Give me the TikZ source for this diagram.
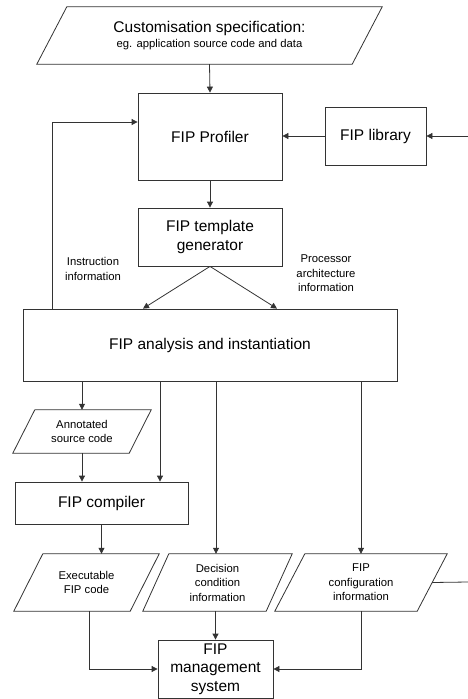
\documentclass[tikz,border=0pt]{standalone}
\usepackage{fontspec}
\setsansfont{Liberation Sans}
\usepackage{tikz}
\usetikzlibrary{arrows.meta}

\newcommand{\bigtext}{\fontsize{15.5}{18.5}\selectfont}
\newcommand{\smalltext}{\fontsize{11.3}{14.5}\selectfont}
% slanted outline round a (rectangular) data node: name, half slant
\newcommand{\dataframe}[2]{%
  \draw[plain] ([xshift=#2]#1.north west) -- ([xshift=#2]#1.north east)
    -- ([xshift=-#2]#1.south east) -- ([xshift=-#2]#1.south west) -- cycle;}

\begin{document}
\begin{tikzpicture}[
    x=1pt, y=-1pt,
    font=\sffamily\bigtext,
    process/.style={draw=black!80, line width=0.8pt, rectangle, inner sep=0pt, align=center},
    data/.style={rectangle, inner sep=0pt, align=center, font=\sffamily\smalltext},
    flow/.style={draw=black!80, line width=0.8pt, -{Triangle[length=6pt,width=6pt]}},
    plain/.style={draw=black!80, line width=0.8pt},
    info/.style={font=\sffamily\smalltext, align=center, inner sep=0pt}
  ]
  \useasboundingbox (0,0) rectangle (468,699);

  % Top of the flow
  \node[data, font=\sffamily\bigtext, minimum width=315pt, minimum height=57pt] (spec) at (209.5,35.5)
    {Customisation specification:\\[-3pt]{\smalltext eg. application source code and data}};
  \dataframe{spec}{15pt}
  \node[process, minimum width=144pt, minimum height=87pt] (profiler) at (210,136.5) {FIP Profiler};
  \node[process, minimum width=101pt, minimum height=58pt] (library) at (375.5,136) {FIP library};
  \node[process, minimum width=144pt, minimum height=58pt] (template) at (210,237) {FIP template\\generator};
  \node[process, minimum width=374pt, minimum height=72pt] (analysis) at (210,345) {FIP analysis and instantiation};

  % Side labels
  \node[info] (instrlabel) at (93,269) {Instruction\\information};
  \node[info] (archlabel) at (326,273.5) {Processor\\architecture\\information};

  % Lower part
  \node[data, minimum width=116pt, minimum height=43pt] (annotated) at (82,431.5) {Annotated\\source code};
  \dataframe{annotated}{11pt}
  \node[process, minimum width=173pt, minimum height=42pt] (compiler) at (101.5,503) {FIP compiler};
  \node[data, minimum width=116pt, minimum height=57pt] (executable) at (86.5,582.5) {Executable\\FIP code};
  \dataframe{executable}{14.5pt}
  \node[data, minimum width=123pt, minimum height=57pt] (decision) at (217.5,582.5) {Decision\\condition\\information};
  \dataframe{decision}{13pt}
  \node[data, minimum width=142pt, minimum height=57pt] (config) at (361,582.5) {FIP\\configuration\\information};
  \dataframe{config}{15pt}
  \node[process, minimum width=115pt, minimum height=58pt] (management) at (215.5,669) {FIP\\management\\system};

  % Helper coordinates
  \coordinate (libin) at (468,136);
  \coordinate (fb) at (52,122);
  \coordinate (insx) at (143,0);
  \coordinate (archx) at (277,0);
  \coordinate (tapA) at (82,0);
  \coordinate (tapB) at (160,0);
  \coordinate (tapC) at (216,0);
  \coordinate (tapD) at (361,0);
  \coordinate (exeout) at (89,0);
  \coordinate (cfgout) at (468,582);

  % Connectors
  \draw[flow] (spec.south) -- (profiler.north);
  \draw[flow] (libin) -- (library.east);
  \draw[flow] (library.west) -- (library.west -| profiler.east);
  \draw[flow] (fb |- analysis.north) -- (fb) -- (fb -| profiler.west);
  \draw[flow] (profiler.south) -- (template.north);
  \draw[flow] (template.south) -- (insx |- analysis.north);
  \draw[flow] (template.south) -- (archx |- analysis.north);
  \draw[flow] (tapA |- analysis.south) -- (tapA |- annotated.north);
  \draw[flow] (tapA |- annotated.south) -- (tapA |- compiler.north);
  \draw[flow] (tapB |- analysis.south) -- (tapB |- compiler.north);
  \draw[flow] (compiler.south) -- (compiler.south |- executable.north);
  \draw[flow] (tapC |- analysis.south) -- (tapC |- decision.north);
  \draw[flow] (tapD |- analysis.south) -- (tapD |- config.north);
  \draw[flow] (management.north |- decision.south) -- (management.north);
  \draw[flow] (exeout |- executable.south) |- (management.west);
  \draw[flow] (tapD |- config.south) |- (management.east);
  \draw[plain] (config.east) -- (cfgout);

\end{tikzpicture}
\end{document}
